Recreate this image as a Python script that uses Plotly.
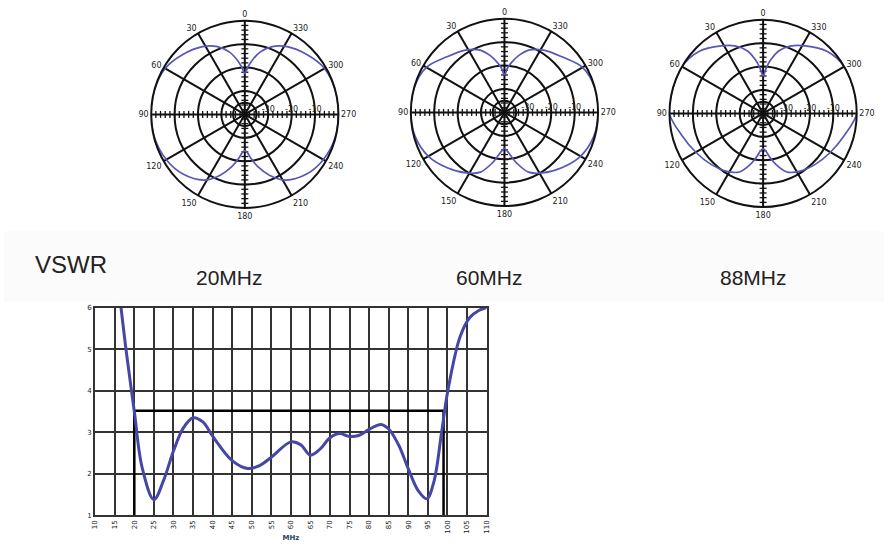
import plotly.graph_objects as go

W, H = 888, 553

# ---------------- data ----------------
THETA = [0, 4, 8, 14, 22, 32, 46, 60, 75, 90, 105, 120, 134, 148, 158, 166, 172, 176,
         180, 184, 188, 194, 202, 212, 226, 240, 255, 270, 285, 300, 314, 328, 338, 346,
         352, 356, 360]

PAT_20 = [-22.5, -19.5, -16.5, -12.5, -8.8, -5.9, -3.2, -0.7, 0.0, 0.0, -0.2, -1.3, -3.3,
          -6.9, -12.0, -17.0, -21.0, -23.5, -24.5, -23.5, -21.0, -17.0, -12.0, -6.9, -3.3,
          -1.3, -0.2, 0.0, 0.0, -0.7, -3.2, -5.9, -8.8, -12.5, -16.5, -19.5, -22.5]

PAT_60 = [-23.9, -21.0, -18.5, -15.0, -11.2, -8.6, -5.8, -1.5, 0.0, 0.0, -0.5, -2.5, -6.0,
          -9.5, -12.5, -17.5, -21.5, -23.5, -24.6, -23.5, -21.5, -17.5, -12.5, -9.5, -6.0,
          -2.5, -0.5, 0.0, 0.0, -1.5, -5.8, -8.6, -11.2, -15.0, -18.5, -21.0, -23.9]

PAT_88 = [-24.0, -20.5, -17.0, -12.5, -9.0, -6.0, -1.9, 0.0, 0.0, 0.0, -4.0, -6.8, -8.8,
          -10.8, -13.0, -17.5, -21.5, -24.0, -24.9, -24.0, -21.5, -17.5, -13.0, -10.8, -8.8,
          -6.8, -4.0, 0.0, 0.0, 0.0, -1.9, -6.0, -9.0, -12.5, -17.0, -20.5, -24.0]

ANG_TICKS = [0, 30, 60, 90, 120, 150, 180, 210, 240, 270, 300, 330]
RAD_TICKS = [-35, -30, -20, -10, 0]
RAD_LABELS = ["", "-30", "-20", "-10", ""]
SPOKE_TICKS_R = [-38, -36, -34, -32, -30, -28, -26, -24, -22, -20, -18, -16, -14, -12,
                 -10, -8, -6, -4, -2]

FREQ = [16.6, 18, 20, 22, 25, 27.5, 30, 32.5, 35, 37.5, 40, 45, 49, 52, 55, 60, 62.5, 65,
        67.5, 70, 72.5, 75, 77.5, 80, 83, 85, 87.5, 90, 92.5, 94.7, 96.5, 98.5, 100,
        103.2, 105.7, 108, 110]
VSWR = [6.0, 4.9, 3.5, 2.15, 1.38, 1.85, 2.55, 3.1, 3.35, 3.25, 2.91, 2.32, 2.13, 2.2,
        2.4, 2.77, 2.7, 2.45, 2.6, 2.87, 2.97, 2.9, 2.93, 3.07, 3.19, 3.08, 2.7, 2.12,
        1.6, 1.4, 1.8, 3.0, 3.95, 5.29, 5.76, 5.93, 6.0]
LIMIT_F = [20, 20, 99, 99]
LIMIT_V = [1, 3.52, 3.52, 1]
X_TICKS = [10, 15, 20, 25, 30, 35, 40, 45, 50, 55, 60, 65, 70, 75, 80, 85, 90, 95, 100, 105, 110]
Y_TICKS = [1, 2, 3, 4, 5, 6]

TITLES = ["20MHz", "60MHz", "88MHz"]
PATTERNS = [PAT_20, PAT_60, PAT_88]

# ---------------- layout helpers ----------------
CENTERS = [(243, 112), (505, 110), (766, 111)]
RAD = 95
TITLE_X = [228, 490, 756]
TITLE_Y = 278

BLUE_P = "#5858b4"
BLUE_V = "#4646a6"
GRID = "#111111"

fig = go.Figure()
layout = {}

for i, (pat, (cx, cy)) in enumerate(zip(PATTERNS, CENTERS)):
    pname = "polar" if i == 0 else f"polar{i+1}"
    sub = "polar" if i == 0 else f"polar{i+1}"
    layout[pname] = dict(
        domain=dict(x=[(cx - RAD) / W, (cx + RAD) / W],
                    y=[1 - (cy + RAD) / H, 1 - (cy - RAD) / H]),
        bgcolor="white",
        angularaxis=dict(rotation=90, direction="counterclockwise",
                         tickmode="array", tickvals=ANG_TICKS,
                         ticktext=[str(a) for a in ANG_TICKS],
                         showgrid=True, gridcolor=GRID, gridwidth=2,
                         showline=True, linecolor=GRID, linewidth=2, ticks="",
                         tickfont=dict(size=8, family="DejaVu Sans", color="#222")),
        radialaxis=dict(range=[-40, 0], tickmode="array", tickvals=RAD_TICKS,
                        ticktext=RAD_LABELS, angle=0, side="counterclockwise",
                        showline=False, showgrid=True, gridcolor=GRID, gridwidth=2,
                        ticks="", tickangle=0,
                        tickfont=dict(size=8, family="DejaVu Sans", color="#222")),
    )
    # dense ticks along the main spokes
    for ang, sym in [(0, "line-ew"), (180, "line-ew"), (90, "line-ns"), (270, "line-ns")]:
        fig.add_trace(go.Scatterpolar(
            r=SPOKE_TICKS_R, theta=[ang] * len(SPOKE_TICKS_R), mode="markers",
            marker=dict(symbol=sym, size=5, line=dict(width=1.3, color=GRID)),
            subplot=sub, showlegend=False, hoverinfo="skip"))
    fig.add_trace(go.Scatterpolar(
        r=pat, theta=THETA, mode="lines",
        line=dict(color=BLUE_P, width=1.7, shape="spline", smoothing=1.0),
        subplot=sub, showlegend=False, name=TITLES[i]))

# VSWR chart
fig.add_trace(go.Scatter(x=LIMIT_F, y=LIMIT_V, mode="lines",
                         line=dict(color="black", width=2.5), showlegend=False))
fig.add_trace(go.Scatter(x=FREQ, y=VSWR, mode="lines",
                         line=dict(color=BLUE_V, width=3, shape="spline", smoothing=1.0),
                         showlegend=False, name="VSWR"))

AX = dict(showgrid=True, gridcolor="#333", gridwidth=2, showline=True, mirror=True,
          linecolor="#333", linewidth=2, zeroline=False, ticks="",
          tickfont=dict(size=7, family="DejaVu Sans", color="#222"))

layout["xaxis"] = dict(domain=[92 / W, 487 / W], range=[10, 110], tickmode="array",
                       tickvals=X_TICKS, tickangle=-90,
                       title=dict(text="<b>MHz</b>", font=dict(size=7, family="DejaVu Sans"),
                                  standoff=2), **AX)
layout["yaxis"] = dict(domain=[1 - 519 / H, 1 - 308 / H], range=[1, 6], tickmode="array",
                       tickvals=Y_TICKS, **AX)

annotations = [dict(text="VSWR", x=68 / W, y=1 - 264 / H, xref="paper", yref="paper",
                    showarrow=False, xanchor="center", yanchor="middle",
                    font=dict(size=24, family="Liberation Sans", color="#222"))]
for t, tx in zip(TITLES, TITLE_X):
    annotations.append(dict(text=t, x=tx / W, y=1 - TITLE_Y / H, xref="paper", yref="paper",
                            showarrow=False, xanchor="center", yanchor="middle",
                            font=dict(size=21, family="Liberation Sans", color="#222")))

fig.update_layout(
    width=W, height=H, margin=dict(l=0, r=0, t=0, b=0),
    paper_bgcolor="white", plot_bgcolor="white",
    annotations=annotations,
    shapes=[dict(type="rect", xref="paper", yref="paper", x0=0, x1=1,
                 y0=1 - 302 / H, y1=1 - 230 / H, fillcolor="#fbfbfb",
                 line=dict(width=0), layer="below")],
    **layout)

fig.write_html("out.html")
